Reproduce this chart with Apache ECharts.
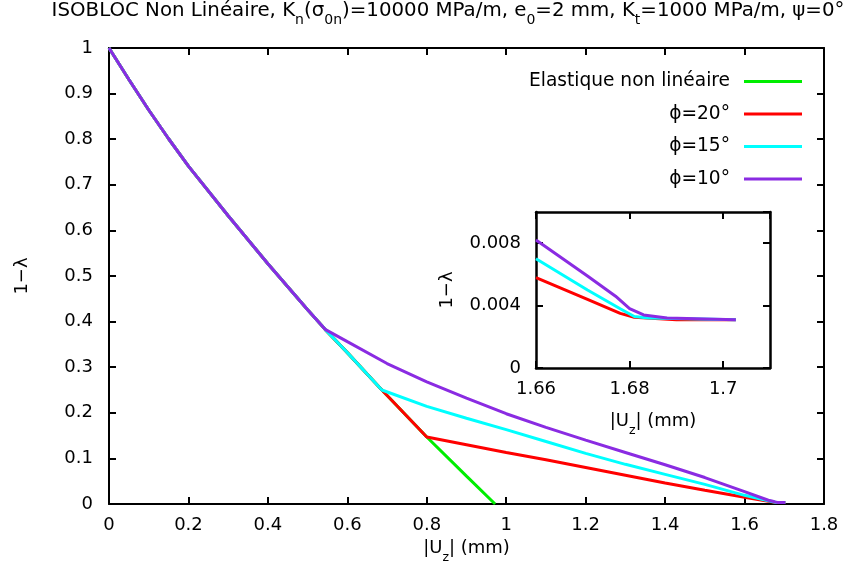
<!DOCTYPE html>
<html><head><meta charset="utf-8">
<script src="https://cdn.jsdelivr.net/npm/echarts@6/dist/echarts.min.js"></script>
<style>html,body{margin:0;padding:0;background:#fff}#c{width:853px;height:574px}</style>
</head><body><div id="c"></div>
<script>
// ---------- data ----------
const seriesNames = ['Elastique non linéaire', 'ϕ=20°', 'ϕ=15°', 'ϕ=10°'];
const xTicksMain = [0, 1.8, 0.2];      // min, max, step
const yTicksMain = [0, 1, 0.1];
const xTicksInset = [1.66, 1.71, 0.02];
const yTicksInset = [0, 0.01, 0.004];

// common elastic part (all curves)
const commonPart = [[0,1],[0.05,0.931],[0.1,0.864],[0.15,0.801],[0.2,0.741],[0.3,0.632],[0.4,0.527],[0.5,0.426],[0.544,0.383]];
// elastic part shared by green, red, cyan
const elasticMid = [[0.6,0.332],[0.687,0.250]];
// elastic part shared by green, red
const elasticLow = [[0.8,0.147]];
// green tail
const elasticTail = [[0.9,0.061],[0.972,0]];
// phi=20 branch
const phi20Branch = [[0.9,0.130],[1.0,0.113],[1.1,0.097],[1.2,0.080],[1.3,0.063],[1.4,0.046],[1.5,0.030],[1.6,0.015],[1.66,0.0058],[1.671,0.0044],[1.678,0.0035],[1.681,0.00325],[1.69,0.0031],[1.7027,0.0031]];
// phi=15 branch
const phi15Branch = [[0.8,0.214],[0.9,0.188],[1.0,0.163],[1.1,0.137],[1.2,0.111],[1.3,0.087],[1.4,0.065],[1.5,0.043],[1.6,0.019],[1.66,0.0070],[1.671,0.0050],[1.678,0.0038],[1.681,0.0033],[1.684,0.0032],[1.7027,0.0031]];
// phi=10 branch
const phi10Branch = [[0.6,0.356],[0.7,0.308],[0.8,0.268],[0.9,0.232],[1.0,0.198],[1.1,0.168],[1.2,0.140],[1.3,0.113],[1.4,0.086],[1.5,0.058],[1.6,0.027],[1.66,0.0082],[1.671,0.0059],[1.677,0.0046],[1.68,0.0038],[1.683,0.0034],[1.688,0.0032],[1.7027,0.0031]];

// ---------- styling ----------
const FONT = 'DejaVu Sans';
const FS = 18;
const colors = ['#00ee00', '#ff0000', '#00ffff', '#8a2be2'];

const elastic = commonPart.concat(elasticMid, elasticLow, elasticTail);
const phi20 = commonPart.concat(elasticMid, elasticLow, phi20Branch);
const phi15 = commonPart.concat(elasticMid, phi15Branch);
const phi10 = commonPart.concat(phi10Branch);
const curves = [elastic, phi20, phi15, phi10];

function richSub(fs, sfs) {
  return {
    m: {fontSize: fs, fontFamily: FONT, fontWeight: 'normal', color: '#000', lineHeight: 24, verticalAlign: 'top'},
    s: {fontSize: sfs, fontFamily: FONT, fontWeight: 'normal', color: '#000', lineHeight: 13, padding: [12,0,0,0], verticalAlign: 'top'}
  };
}

function axisBase(gridIndex, t, pos, showLabel, lw) {
  return {
    type: 'value', gridIndex: gridIndex, position: pos,
    min: t[0], max: t[1], interval: t[2],
    axisLine: {show: true, onZero: false, lineStyle: {color: '#000', width: lw}},
    axisTick: {show: true, inside: true, length: 7, lineStyle: {color: '#000', width: 2}},
    axisLabel: {show: showLabel, fontSize: FS, fontFamily: FONT, color: '#000', showMaxLabel: gridIndex === 0},
    splitLine: {show: false}
  };
}

const xMain = axisBase(0, xTicksMain, 'bottom', true, 2);
xMain.axisLabel.margin = 12;
xMain.name = '{m||U}{s|z}{m|| (mm)}';
xMain.nameLocation = 'middle';
xMain.nameGap = 34;
xMain.nameTextStyle = {rich: richSub(FS, 12.5)};
const xMainTop = axisBase(0, xTicksMain, 'top', false, 2);

const yMain = axisBase(0, yTicksMain, 'left', true, 2);
yMain.axisLabel.margin = 16;
yMain.name = '1−λ';
yMain.nameLocation = 'middle';
yMain.nameGap = 78;
yMain.nameTextStyle = {fontSize: FS, fontFamily: FONT, color: '#000'};
const yMainRight = axisBase(0, yTicksMain, 'right', false, 2);

const xIn = axisBase(1, xTicksInset, 'bottom', true, 2.5);
xIn.axisLabel.margin = 12;
xIn.axisLabel.showMaxLabel = false;
xIn.name = '{m||U}{s|z}{m|| (mm)}';
xIn.nameLocation = 'middle';
xIn.nameGap = 44;
xIn.nameTextStyle = {rich: richSub(FS, 12.5)};
const xInTop = axisBase(1, xTicksInset, 'top', false, 2.5);

const yIn = axisBase(1, yTicksInset, 'left', true, 2.5);
yIn.axisLabel.margin = 15;
yIn.axisLabel.showMaxLabel = false;
yIn.name = '1−λ';
yIn.nameLocation = 'middle';
yIn.nameGap = 80;
yIn.nameTextStyle = {fontSize: FS, fontFamily: FONT, color: '#000'};
const yInRight = axisBase(1, yTicksInset, 'right', false, 2.5);

const series = [];
curves.forEach(function (d, i) {
  series.push({
    name: seriesNames[i], type: 'line', xAxisIndex: 0, yAxisIndex: 0,
    data: d, symbol: 'none', smooth: false, clip: true,
    lineStyle: {color: colors[i], width: 3}, itemStyle: {color: colors[i]}, z: 2 + i
  });
});
[1, 2, 3].forEach(function (i) {
  series.push({
    name: seriesNames[i], type: 'line', xAxisIndex: 2, yAxisIndex: 2,
    data: curves[i].filter(function (p) { return p[0] >= 1.65; }),
    symbol: 'none', clip: true,
    lineStyle: {color: colors[i], width: 3}, itemStyle: {color: colors[i]}, z: 10 + i
  });
});

const chart = echarts.init(document.getElementById('c'), null, {renderer: 'canvas'});
chart.setOption({
  animation: false,
  backgroundColor: '#fff',
  title: {
    text: '{m|ISOBLOC Non Linéaire, K}{s|n}{m|(σ}{s|0n}{m|)=10000 MPa/m, e}{s|0}{m|=2 mm, K}{s|t}{m|=1000 MPa/m, ψ=0°}',
    left: 448, textAlign: 'center', top: 1, padding: 0,
    textStyle: {fontWeight: 'normal', rich: richSub(19.8, 14)}
  },
  legend: {
    data: seriesNames, orient: 'vertical', right: 51, top: 72, align: 'right',
    icon: 'rect', itemWidth: 58, itemHeight: 3, itemGap: 13.5, padding: 0,
    textStyle: {fontSize: 18.6, fontFamily: FONT, color: '#000', padding: [0, 9, 0, 0]}
  },
  grid: [
    {left: 109, top: 48, right: 29, bottom: 70, containLabel: false},
    {left: 536, top: 212, width: 234, height: 156, containLabel: false, show: true, backgroundColor: '#fff', borderWidth: 0}
  ],
  xAxis: [xMain, xMainTop, xIn, xInTop],
  yAxis: [yMain, yMainRight, yIn, yInRight],
  series: series
});
</script></body></html>
